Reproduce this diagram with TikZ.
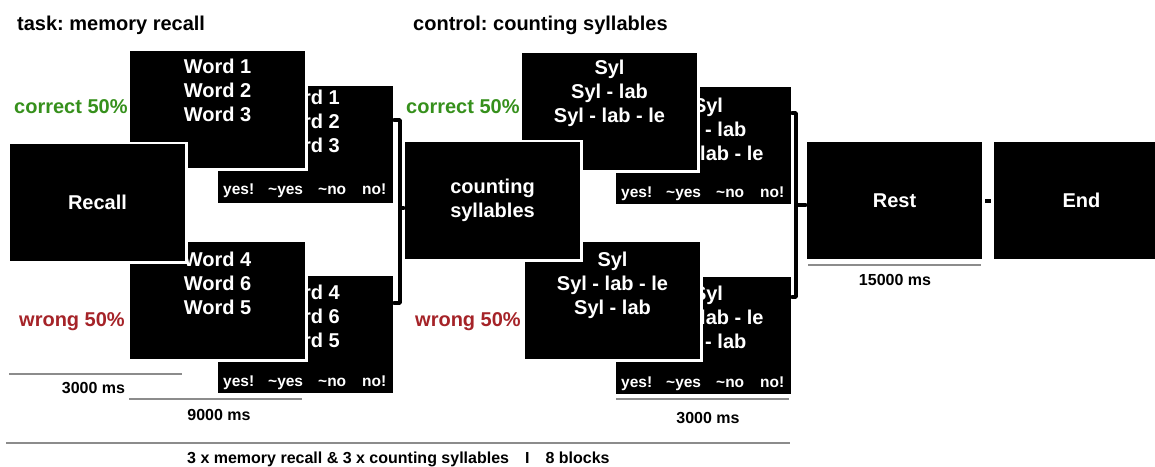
\documentclass[tikz,border=0pt]{standalone}
\usepackage{fontspec}
\setmainfont{Liberation Sans}
\usetikzlibrary{calc}
\definecolor{okgreen}{HTML}{36901C}
\definecolor{badred}{HTML}{A52328}
\definecolor{barline}{HTML}{8C8C8C}
\frenchspacing

\begin{document}
\begin{tikzpicture}[x=1pt,y=-1pt,
  screen/.style={fill=black, draw=white, line width=2.5pt,
    minimum width=177.5pt, minimum height=119.5pt, inner sep=0pt, outer sep=0pt,
    anchor=north west, xshift=-1.25pt, yshift=1.25pt,
    text=white, font=\fontsize{20}{24}\selectfont\bfseries, align=center},
  big/.style={text=white, font=\fontsize{20}{24}\selectfont\bfseries, inner sep=0pt, anchor=base},
  ans/.style={text=white, font=\fontsize{15.5}{18}\selectfont\bfseries, inner sep=0pt, anchor=base west},
  ms/.style={text=black, font=\fontsize{16}{19}\selectfont\bfseries, inner sep=0pt, anchor=base},
  head/.style={font=\fontsize{20}{24}\selectfont\bfseries, inner sep=0pt, anchor=base west},
  bar/.style={draw=barline, line width=1.2pt},
  brk/.style={line width=3.5pt, line join=round, line cap=round},
]
\useasboundingbox (0,0) rectangle (1155,466);
\clip (0,0) rectangle (1155,466);

% headings
\node[head] (hTask) at (17,30) {task: memory recall};
\node[head] (hCtrl) at (413,30) {control: counting syllables};

% ---------- memory recall ----------
% response screens (behind)
\node[screen] (mcB) at (218,86) {};
\node[big] (mcB1) at (306,104) {Word 1};
\node[big] (mcB2) at (306,128) {Word 2};
\node[big] (mcB3) at (306,152) {Word 3};
\node[ans] (mcBy) at (223,194) {yes!};
\node[ans] (mcBa) at (268,194) {\textasciitilde yes};
\node[ans] (mcBb) at (318,194) {\textasciitilde no};
\node[ans] (mcBn) at (362,194) {no!};

\node[screen] (mwB) at (218,276) {};
\node[big] (mwB1) at (306,299) {Word 4};
\node[big] (mwB2) at (306,323) {Word 6};
\node[big] (mwB3) at (306,347) {Word 5};
\node[ans] (mwBy) at (223,386) {yes!};
\node[ans] (mwBa) at (268,386) {\textasciitilde yes};
\node[ans] (mwBb) at (318,386) {\textasciitilde no};
\node[ans] (mwBn) at (362,386) {no!};

% word list screens
\node[screen] (mcF) at (130,51) {};
\node[big] (mcF1) at (217.5,73) {Word 1};
\node[big] (mcF2) at (217.5,97) {Word 2};
\node[big] (mcF3) at (217.5,121) {Word 3};

\node[screen] (mwF) at (130,242) {};
\node[big] (mwF1) at (217.5,266) {Word 4};
\node[big] (mwF2) at (217.5,290) {Word 6};
\node[big] (mwF3) at (217.5,314) {Word 5};

% cue screen
\node[screen] (recall) at (10,144) {Recall};

\node[head, text=okgreen] (mcLab) at (14,113) {correct 50\%};
\node[head, text=badred] (mwLab) at (19,326) {wrong 50\%};

% ---------- counting syllables ----------
\node[screen] (scB) at (616,87) {};
\node[big] (scB1) at (708,112) {Syl};
\node[big] (scB2) at (708,136) {Syl - lab};
\node[big] (scB3) at (708,160) {Syl - lab - le};
\node[ans] (scBy) at (621,197) {yes!};
\node[ans] (scBa) at (666,197) {\textasciitilde yes};
\node[ans] (scBb) at (716,197) {\textasciitilde no};
\node[ans] (scBn) at (760,197) {no!};

\node[screen] (swB) at (616,277) {};
\node[big] (swB1) at (708,300) {Syl};
\node[big] (swB2) at (708,324) {Syl - lab - le};
\node[big] (swB3) at (708,348) {Syl - lab};
\node[ans] (swBy) at (621,387) {yes!};
\node[ans] (swBa) at (666,387) {\textasciitilde yes};
\node[ans] (swBb) at (716,387) {\textasciitilde no};
\node[ans] (swBn) at (760,387) {no!};

\node[screen] (scF) at (522,53) {};
\node[big] (scF1) at (609.5,74) {Syl};
\node[big] (scF2) at (609.5,98) {Syl - lab};
\node[big] (scF3) at (609.5,122) {Syl - lab - le};

\node[screen] (swF) at (525,242) {};
\node[big] (swF1) at (612.5,266) {Syl};
\node[big] (swF2) at (612.5,290) {Syl - lab - le};
\node[big] (swF3) at (612.5,314) {Syl - lab};

\node[screen] (count) at (405,142) {counting\\syllables};

\node[head, text=okgreen] (scLab) at (406,113) {correct 50\%};
\node[head, text=badred] (swLab) at (415,326) {wrong 50\%};

% ---------- rest and end ----------
\node[screen] (rest) at (807,142) {Rest};
\node[screen] (end) at (994,142) {End};
\draw[line width=4pt, shorten <=2pt, shorten >=2pt] (rest.east) -- (end.west);

% brackets joining the trial types
\coordinate (brL) at (400,208);
\draw[brk] (394,120) -- (400,120) -- (400,303) -- (394,303);
\draw[brk] (brL) -- (brL -| count.west);
\coordinate (brR) at (796,205);
\draw[brk] (792,113) -- (796,113) -- (796,297) -- (792,297);
\draw[brk] (brR) -- (brR -| rest.west);

% durations
\draw[bar] (9,374) -- (182,374);
\node[ms] (t1) at (93.5,393) {3000 ms};
\draw[bar] (129,399) -- (302,399);
\node[ms] (t2) at (219,420) {9000 ms};
\draw[bar] (616,399) -- (789,399);
\node[ms] (t3) at (708,423) {3000 ms};
\draw[bar] (808,265) -- (981,265);
\node[ms] (t4) at (895,285) {15000 ms};
\draw[bar] (6,443) -- (790,443);
\node[ms, anchor=base west] (summary) at (187,463) {3 x memory recall \& 3 x counting syllables\quad I\quad 8 blocks};
\end{tikzpicture}
\end{document}
